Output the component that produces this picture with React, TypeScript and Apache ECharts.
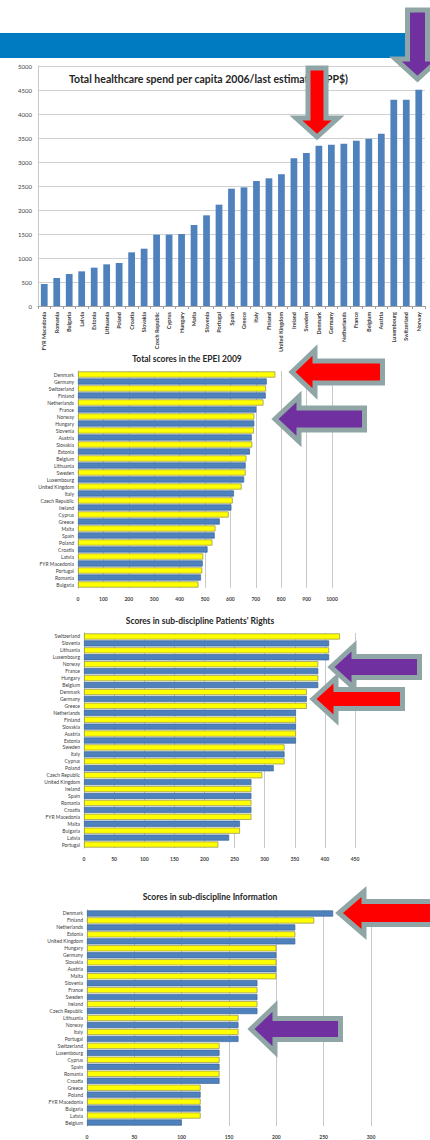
import React, { useEffect, useRef } from "react";
import * as echarts from "echarts";

const spendCountries = [
  "FYR Macedonia", "Romania", "Bulgaria", "Latvia", "Estonia", "Lithuania", "Poland", "Croatia",
  "Slovakia", "Czech Republic", "Cyprus", "Hungary", "Malta", "Slovenia", "Portugal", "Spain",
  "Greece", "Italy", "Finland", "United Kingdom", "Ireland", "Sweden", "Denmark", "Germany",
  "Netherlands", "France", "Belgium", "Austria", "Luxembourg", "Switzerland", "Norway",
];
const spendValues = [
  458, 583, 667, 722, 799, 868, 896, 1118, 1194, 1486, 1486, 1500, 1688, 1889, 2111, 2444,
  2472, 2604, 2660, 2743, 3076, 3188, 3340, 3361, 3382, 3444, 3486, 3590, 4299, 4299, 4507,
];
const spendTicks = { min: 0, max: 5000, interval: 500 };

const epeiCountries = [
  "Denmark", "Germany", "Switzerland", "Finland", "Netherlands", "France", "Norway", "Hungary",
  "Slovenia", "Austria", "Slovakia", "Estonia", "Belgium", "Lithuania", "Sweden", "Luxembourg",
  "United Kingdom", "Italy", "Czech Republic", "Ireland", "Cyprus", "Greece", "Malta", "Spain",
  "Poland", "Croatia", "Latvia", "FYR Macedonia", "Portugal", "Romania", "Bulgaria",
];
const epeiValues = [
  777, 743, 740, 739, 730, 702, 694, 694, 692, 684, 686, 677, 663, 660, 660, 654,
  644, 614, 609, 604, 593, 558, 541, 538, 529, 510, 493, 491, 489, 484, 474,
];
const epeiTicks = { min: 0, max: 1000, interval: 100 };

const rightsCountries = [
  "Switzerland", "Slovenia", "Lithuania", "Luxembourg", "Norway", "France", "Hungary", "Belgium",
  "Denmark", "Germany", "Greece", "Netherlands", "Finland", "Slovakia", "Austria", "Estonia",
  "Sweden", "Italy", "Cyprus", "Poland", "Czech Republic", "United Kingdom", "Ireland", "Spain",
  "Romania", "Croatia", "FYR Macedonia", "Malta", "Bulgaria", "Latvia", "Portugal",
];
const rightsValues = [
  425, 407, 407, 407, 389, 389, 389, 389, 370, 370, 370, 352, 352, 352, 352, 352,
  333, 333, 333, 315, 296, 278, 278, 278, 278, 278, 278, 259, 259, 241, 223,
];
const rightsTicks = { min: 0, max: 450, interval: 50 };

const infoCountries = [
  "Denmark", "Finland", "Netherlands", "Estonia", "United Kingdom", "Hungary", "Germany", "Slovakia",
  "Austria", "Malta", "Slovenia", "France", "Sweden", "Ireland", "Czech Republic", "Lithuania",
  "Norway", "Italy", "Portugal", "Switzerland", "Luxembourg", "Cyprus", "Spain", "Romania",
  "Croatia", "Greece", "Poland", "FYR Macedonia", "Bulgaria", "Latvia", "Belgium",
];
const infoValues = [
  260, 240, 220, 220, 220, 200, 200, 200, 200, 200, 180, 180, 180, 180, 180, 160,
  160, 160, 160, 140, 140, 140, 140, 140, 140, 120, 120, 120, 120, 120, 100,
];
const infoTicks = { min: 0, max: 300, interval: 50 };

const titles = [
  "Total healthcare spend per capita 2006/last estimate (PPP$)",
  "Total scores in the EPEI 2009",
  "Scores in sub-discipline Patients' Rights",
  "Scores in sub-discipline Information",
];

const BLUE = "#4F81BD";
const YELLOW = "#FFFF00";
const RED = "#FF0000";
const PURPLE = "#7030A0";
const OUTLINE = "#8FA5A6";
const FONT = "Lato, 'Open Sans', sans-serif";

function arrowLeft(tipX: number, tipY: number, backX: number, headHalf: number, shaftHalf: number, right: number) {
  return [
    [tipX, tipY],
    [backX, tipY - headHalf],
    [backX, tipY - shaftHalf],
    [right, tipY - shaftHalf],
    [right, tipY + shaftHalf],
    [backX, tipY + shaftHalf],
    [backX, tipY + headHalf],
  ];
}

function arrowDown(cx: number, top: number, shaftHalf: number, headY: number, headHalf: number, tipY: number) {
  return [
    [cx - shaftHalf, top],
    [cx + shaftHalf, top],
    [cx + shaftHalf, headY],
    [cx + headHalf, headY],
    [cx, tipY],
    [cx - headHalf, headY],
    [cx - shaftHalf, headY],
  ];
}

function arrow(points: number[][], fill: string) {
  return {
    type: "polygon",
    z: 100,
    shape: { points },
    style: { fill, stroke: OUTLINE, lineWidth: 5, lineJoin: "miter" },
  };
}

function barData(values: number[], startYellow: boolean) {
  return values.map((v, i) => {
    const yellow = (i % 2 === 0) === startYellow;
    return {
      value: v,
      itemStyle: {
        color: yellow ? YELLOW : BLUE,
        borderColor: yellow ? "#8C8C55" : "#3A6598",
        borderWidth: 0.7,
      },
    };
  });
}

const axisLabelStyle = { color: "#404040", fontFamily: FONT };
const plain = (v: number) => String(v);

function hGrid(left: number, right: number, top: number, bottom: number) {
  return { left, right, top, bottom, containLabel: false };
}

export default function App() {
  const ref = useRef<HTMLDivElement>(null);
  useEffect(() => {
    document.body.style.margin = "0";
    const chart = echarts.init(ref.current!, null, { renderer: "svg" });
    const valueAxisH = (idx: number, t: { min: number; max: number; interval: number }, margin: number) => ({
      type: "value",
      gridIndex: idx,
      min: t.min,
      max: t.max,
      interval: t.interval,
      axisLine: { show: false },
      axisTick: { show: false },
      splitLine: { show: true, lineStyle: { color: "#C8C8C8", width: 1 } },
      axisLabel: { ...axisLabelStyle, fontSize: 5, fontWeight: "bold", margin, formatter: plain },
    });
    const catAxisH = (idx: number, data: string[]) => ({
      type: "category",
      gridIndex: idx,
      data,
      inverse: true,
      axisLine: { show: true, lineStyle: { color: "#B0B0B0" } },
      axisTick: { show: false },
      axisLabel: { ...axisLabelStyle, fontSize: 5, margin: 4, interval: 0 },
    });
    const option: any = {
      animation: false,
      backgroundColor: "#FFFFFF",
      grid: [
        hGrid(38, 5, 66, 834),
        hGrid(78, 98, 371, 552),
        hGrid(84, 75, 633, 292),
        hGrid(87, 59, 910, 14),
      ],
      xAxis: [
        {
          type: "category",
          gridIndex: 0,
          data: spendCountries,
          axisLine: { show: true, lineStyle: { color: "#A0A0A0" } },
          axisTick: { show: true, length: 3, lineStyle: { color: "#A0A0A0" } },
          axisLabel: { ...axisLabelStyle, fontSize: 5.5, fontWeight: "bold", rotate: 90, interval: 0, margin: 6 },
        },
        valueAxisH(1, epeiTicks, 8),
        valueAxisH(2, rightsTicks, 8),
        valueAxisH(3, infoTicks, 8),
      ],
      yAxis: [
        {
          type: "value",
          gridIndex: 0,
          min: spendTicks.min,
          max: spendTicks.max,
          interval: spendTicks.interval,
          axisLine: { show: true, lineStyle: { color: "#C8C8C8" } },
          axisTick: { show: false },
          splitLine: { show: true, lineStyle: { color: "#D0D0D0" } },
          axisLabel: { ...axisLabelStyle, fontSize: 6, margin: 6, formatter: plain },
        },
        catAxisH(1, epeiCountries),
        catAxisH(2, rightsCountries),
        catAxisH(3, infoCountries),
      ],
      series: [
        {
          type: "bar",
          xAxisIndex: 0,
          yAxisIndex: 0,
          data: spendValues,
          barWidth: "54%",
          itemStyle: { color: BLUE },
        },
        {
          type: "bar",
          xAxisIndex: 1,
          yAxisIndex: 1,
          data: barData(epeiValues, true),
          barCategoryGap: "12%",
        },
        {
          type: "bar",
          xAxisIndex: 2,
          yAxisIndex: 2,
          data: barData(rightsValues, true),
          barCategoryGap: "12%",
        },
        {
          type: "bar",
          xAxisIndex: 3,
          yAxisIndex: 3,
          data: barData(infoValues, false),
          barCategoryGap: "12%",
        },
      ],
      graphic: [
        { type: "rect", z: 50, shape: { x: 0, y: 33, width: 430, height: 25 }, style: { fill: "#007AC1" } },
        {
          type: "text", z: 60, x: 69, y: 79,
          style: { text: titles[0], fill: "#262626", font: `bold 10.5px ${FONT}`, textVerticalAlign: "middle" },
        },
        {
          type: "text", z: 60, x: 187, y: 359,
          style: { text: titles[1], fill: "#262626", font: `bold 8.5px ${FONT}`, textAlign: "center", textVerticalAlign: "middle" },
        },
        {
          type: "text", z: 60, x: 200, y: 621,
          style: { text: titles[2], fill: "#262626", font: `bold 8.5px ${FONT}`, textAlign: "center", textVerticalAlign: "middle" },
        },
        {
          type: "text", z: 60, x: 210, y: 897,
          style: { text: titles[3], fill: "#262626", font: `bold 8.5px ${FONT}`, textAlign: "center", textVerticalAlign: "middle" },
        },
        arrow(arrowDown(317, 68, 9, 118, 21, 137), RED),
        arrow(arrowDown(417.5, 10, 10, 59, 22, 79), PURPLE),
        arrow(arrowLeft(292, 372, 315, 22, 11, 382.5), RED),
        arrow(arrowLeft(275, 419, 299, 22.5, 11, 364.5), PURPLE),
        arrow(arrowLeft(331, 667, 354, 21, 10.5, 419.5), PURPLE),
        arrow(arrowLeft(313, 699, 336, 21, 9.5, 402.5), RED),
        arrow(arrowLeft(339, 913, 364, 21.5, 11.5, 440), RED),
        arrow(arrowLeft(251, 1029, 275, 23, 10.5, 340.5), PURPLE),
      ],
    };
    chart.setOption(option);
    return () => chart.dispose();
  }, []);
  return (
    <div
      ref={ref}
      style={{ position: "absolute", left: 0, top: 0, width: 430, height: 1140, background: "#fff" }}
    />
  );
}
